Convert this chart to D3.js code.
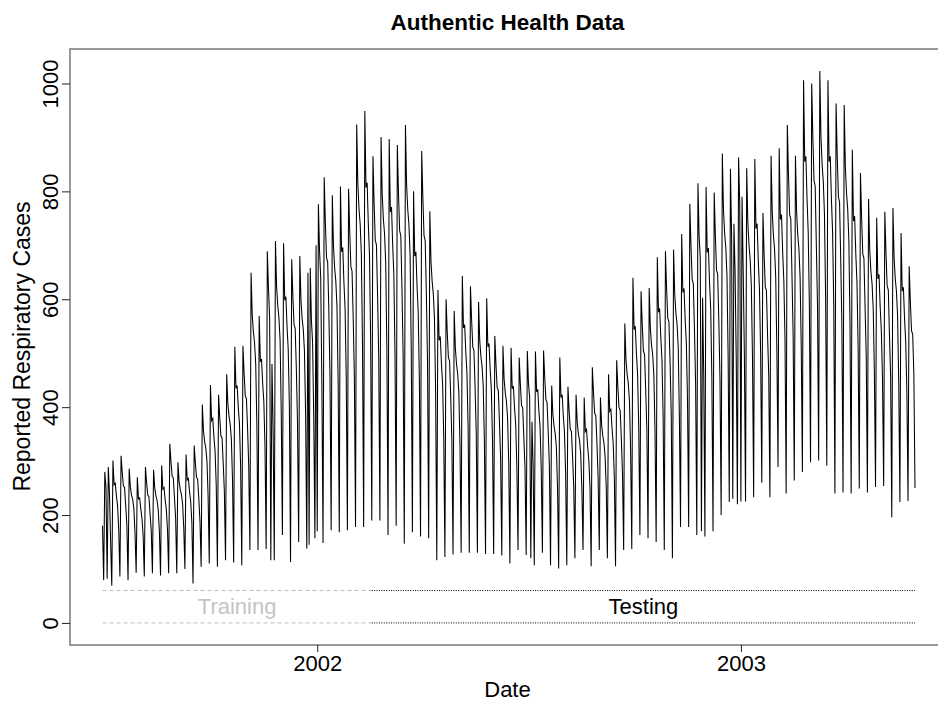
<!DOCTYPE html>
<html>
<head>
  <meta charset="utf-8">
  <script src="https://d3js.org/d3.v7.min.js"></script>
  <style>
    body { margin: 0; background: #fff; }
    svg { display: block; font-family: "Liberation Sans", Arial, Helvetica, sans-serif; }
  </style>
</head>
<body>
<script>
// daily counts, first value is Sat 30 Jun 2001, then one row per week (Sun..Sat)
var firstDay = "2001-06-30";
var dailyCases = [180,
  79, 280, 250, 82, 289, 240, 150,
  69, 301, 256, 259, 235, 217, 171,
  86, 310, 279, 254, 251, 217, 181,
  79, 286, 252, 237, 229, 212, 167,
  93, 270, 230, 232, 211, 194, 163,
  86, 289, 260, 237, 234, 202, 171,
  92, 284, 250, 236, 227, 210, 170,
  88, 292, 248, 251, 228, 210, 172,
  92, 332, 299, 272, 269, 232, 194,
  92, 298, 262, 247, 238, 221, 177,
  100, 312, 265, 268, 243, 225, 186,
  73, 329, 296, 270, 266, 230, 187,
  104, 405, 356, 336, 324, 300, 234,
  110, 441, 375, 379, 344, 318, 254,
  104, 423, 381, 347, 343, 296, 243,
  116, 461, 406, 383, 369, 341, 266,
  112, 512, 435, 440, 399, 369, 290,
  107, 514, 463, 421, 416, 360, 289,
  135, 649, 571, 539, 519, 480, 366,
  135, 569, 484, 489, 444, 410, 326,
  137, 689, 620, 565, 116, 480, 360,
  116, 708, 623, 588, 566, 524, 389,
  163, 704, 598, 605, 549, 507, 401,
  113, 674, 607, 553, 546, 472, 371,
  150, 680, 598, 564, 544, 503, 385,
  138, 649, 145, 658, 560, 520, 380,
  157, 700, 170, 776, 690, 640, 440,
  148, 826, 743, 677, 669, 578, 457,
  172, 793, 698, 658, 634, 587, 449,
  168, 809, 688, 696, 631, 582, 455,
  172, 805, 725, 660, 652, 564, 455,
  178, 924, 813, 767, 739, 684, 515,
  178, 949, 807, 816, 740, 683, 528,
  190, 865, 779, 709, 701, 606, 490,
  190, 901, 793, 748, 721, 667, 508,
  163, 897, 762, 771, 700, 646, 498,
  180, 886, 797, 727, 718, 620, 497,
  147, 923, 812, 766, 738, 683, 506,
  168, 800, 680, 688, 624, 576, 450,
  160, 875, 788, 718, 709, 613, 486,
  157, 763, 671, 633, 610, 565, 429,
  116, 617, 524, 531, 481, 444, 344,
  122, 600, 540, 492, 486, 420, 337,
  127, 578, 509, 480, 462, 428, 327,
  130, 643, 547, 553, 502, 463, 361,
  130, 624, 562, 512, 505, 437, 351,
  130, 595, 524, 494, 476, 440, 337,
  128, 602, 512, 518, 470, 433, 339,
  128, 532, 479, 436, 431, 372, 304,
  125, 514, 452, 427, 411, 380, 295,
  110, 510, 434, 439, 398, 367, 288,
  135, 492, 443, 403, 399, 344, 287,
  126, 504, 444, 418, 120, 373, 290,
  107, 503, 428, 433, 392, 362, 284,
  130, 505, 455, 414, 409, 354, 292,
  107, 440, 387, 365, 352, 326, 252,
  101, 492, 418, 423, 384, 354, 276,
  107, 438, 394, 359, 355, 307, 251,
  120, 423, 372, 351, 338, 313, 248,
  135, 418, 355, 359, 326, 301, 250,
  105, 474, 427, 389, 384, 332, 269,
  135, 418, 368, 347, 334, 309, 250,
  120, 461, 392, 396, 360, 332, 267,
  105, 487, 438, 399, 394, 341, 276,
  135, 555, 488, 461, 444, 411, 319,
  137, 640, 544, 550, 499, 461, 361,
  163, 615, 554, 504, 498, 431, 357,
  157, 621, 546, 515, 497, 460, 358,
  150, 678, 576, 583, 529, 488, 384,
  135, 689, 620, 565, 558, 482, 386,
  120, 692, 609, 574, 554, 512, 382,
  178, 721, 613, 620, 562, 519, 414,
  178, 777, 699, 637, 629, 544, 442,
  163, 815, 717, 676, 170, 603, 457,
  160, 808, 687, 695, 630, 582, 452,
  170, 798, 718, 654, 646, 559, 450,
  200, 870, 766, 722, 696, 644, 495,
  224, 842, 716, 230, 740, 650, 488,
  220, 863, 777, 225, 790, 650, 498,
  225, 843, 742, 700, 674, 624, 490,
  233, 860, 731, 740, 671, 619, 500,
  260, 760, 684, 623, 616, 532, 458,
  233, 866, 762, 719, 693, 641, 503,
  289, 880, 748, 757, 686, 634, 527,
  240, 923, 831, 757, 748, 646, 534,
  264, 866, 762, 719, 693, 641, 512,
  280, 1006, 855, 865, 785, 724, 587,
  298, 1000, 900, 820, 810, 700, 589,
  301, 1023, 900, 849, 818, 757, 602,
  292, 1006, 855, 865, 785, 724, 591,
  240, 963, 867, 790, 780, 674, 554,
  242, 960, 845, 797, 768, 710, 553,
  240, 877, 745, 754, 684, 631, 511,
  249, 834, 751, 684, 676, 584, 492,
  242, 786, 692, 652, 629, 582, 466,
  252, 751, 638, 646, 586, 541, 452,
  254, 762, 686, 625, 617, 533, 457,
  196, 769, 677, 638, 615, 569, 444,
  224, 723, 615, 622, 564, 521, 429,
  226, 661, 595, 542, 535, 463, 250
];

var splitDate = "2002-02-17";      // end of training period
var guideValues = [0, 60];          // the two horizontal guide lines
var periodLabels = ["Training", "Testing"];
var yTicks = [0, 200, 400, 600, 800, 1000];
var xTickYears = [2002, 2003];

var chartTitle = "Authentic Health Data",
    xTitle = "Date",
    yTitle = "Reported Respiratory Cases";

var W = 938, H = 702;
// plot box (R style, right edge falls off the page)
var box = {left: 70, right: 947.5, top: 49, bottom: 645};

var parse = d3.timeParse("%Y-%m-%d");
var start = parse(firstDay);
var data = dailyCases.map(function (v, i) {
  return {date: d3.timeDay.offset(start, i), value: v};
});
var end = data[data.length - 1].date;
var split = parse(splitDate);

// R adds 4% on each side of the data range
var t0 = +start, t1 = +end, tp = (t1 - t0) * 0.04;
var x = d3.scaleTime()
  .domain([new Date(t0 - tp), new Date(t1 + tp)])
  .range([box.left, box.right]);

var vmin = Math.min(0, d3.min(dailyCases)), vmax = d3.max(dailyCases);
var vp = (vmax - vmin) * 0.04;
var y = d3.scaleLinear()
  .domain([vmin - vp, vmax + vp])
  .range([box.bottom, box.top]);

var svg = d3.select("body").append("svg")
  .attr("width", W)
  .attr("height", H);

// title
svg.append("text")
  .attr("x", 507.5)
  .attr("y", 29.5)
  .attr("text-anchor", "middle")
  .style("font-size", "22.5px")
  .style("font-weight", "bold")
  .text(chartTitle);

// training / testing guide lines
var periods = [
  {name: periodLabels[0], from: start, to: split, color: "#bdbdbd", dash: "4,3", text: "#c4c4c4"},
  {name: periodLabels[1], from: split, to: end, color: "#000", dash: "1,1.4", text: "#000"}
];
periods.forEach(function (p) {
  guideValues.forEach(function (g) {
    svg.append("line")
      .attr("x1", x(p.from)).attr("x2", x(p.to))
      .attr("y1", y(g)).attr("y2", y(g))
      .attr("stroke", p.color)
      .attr("stroke-width", 1)
      .attr("stroke-dasharray", p.dash);
  });
  svg.append("text")
    .attr("x", (x(p.from) + x(p.to)) / 2)
    .attr("y", y(d3.mean(guideValues)))
    .attr("dy", "0.35em")
    .attr("text-anchor", "middle")
    .style("font-size", "22px")
    .style("fill", p.text)
    .text(p.name);
});

// the series
var line = d3.line()
  .x(function (d) { return x(d.date); })
  .y(function (d) { return y(d.value); });

svg.append("path")
  .datum(data)
  .attr("d", line)
  .attr("fill", "none")
  .attr("stroke", "#000")
  .attr("stroke-width", 1.05);

// frame
svg.append("rect")
  .attr("x", box.left)
  .attr("y", box.top)
  .attr("width", box.right - box.left)
  .attr("height", box.bottom - box.top)
  .attr("fill", "none")
  .attr("stroke", "#808080")
  .attr("stroke-width", 1.6);

// y axis
var yAxis = svg.append("g")
  .attr("transform", "translate(" + box.left + ",0)")
  .call(d3.axisLeft(y).tickValues(yTicks).tickSize(8).tickFormat(d3.format("d")));
yAxis.select(".domain").remove();
yAxis.selectAll(".tick line").attr("stroke", "#222");
yAxis.selectAll(".tick text")
  .attr("x", 0)
  .attr("y", -12)
  .attr("dy", null)
  .attr("transform", "rotate(-90)")
  .attr("text-anchor", "middle")
  .style("font-size", "22px")
  .style("font-family", "'Liberation Sans', Arial, sans-serif")
  .style("fill", "#000");

// x axis
var xAxis = svg.append("g")
  .attr("transform", "translate(0," + box.bottom + ")")
  .call(d3.axisBottom(x)
    .tickValues(xTickYears.map(function (yr) { return new Date(yr, 0, 1); }))
    .tickFormat(d3.timeFormat("%Y"))
    .tickSize(7)
    .tickPadding(3));
xAxis.select(".domain").remove();
xAxis.selectAll(".tick line").attr("stroke", "#222");
xAxis.selectAll(".tick text")
  .style("font-size", "22px")
  .style("font-family", "'Liberation Sans', Arial, sans-serif")
  .style("fill", "#000");

// axis titles
svg.append("text")
  .attr("x", 507.5)
  .attr("y", 697)
  .attr("text-anchor", "middle")
  .style("font-size", "22px")
  .text(xTitle);

svg.append("text")
  .attr("transform", "translate(29.5,346.5) rotate(-90)")
  .attr("text-anchor", "middle")
  .style("font-size", "23px")
  .text(yTitle);
</script>
</body>
</html>
